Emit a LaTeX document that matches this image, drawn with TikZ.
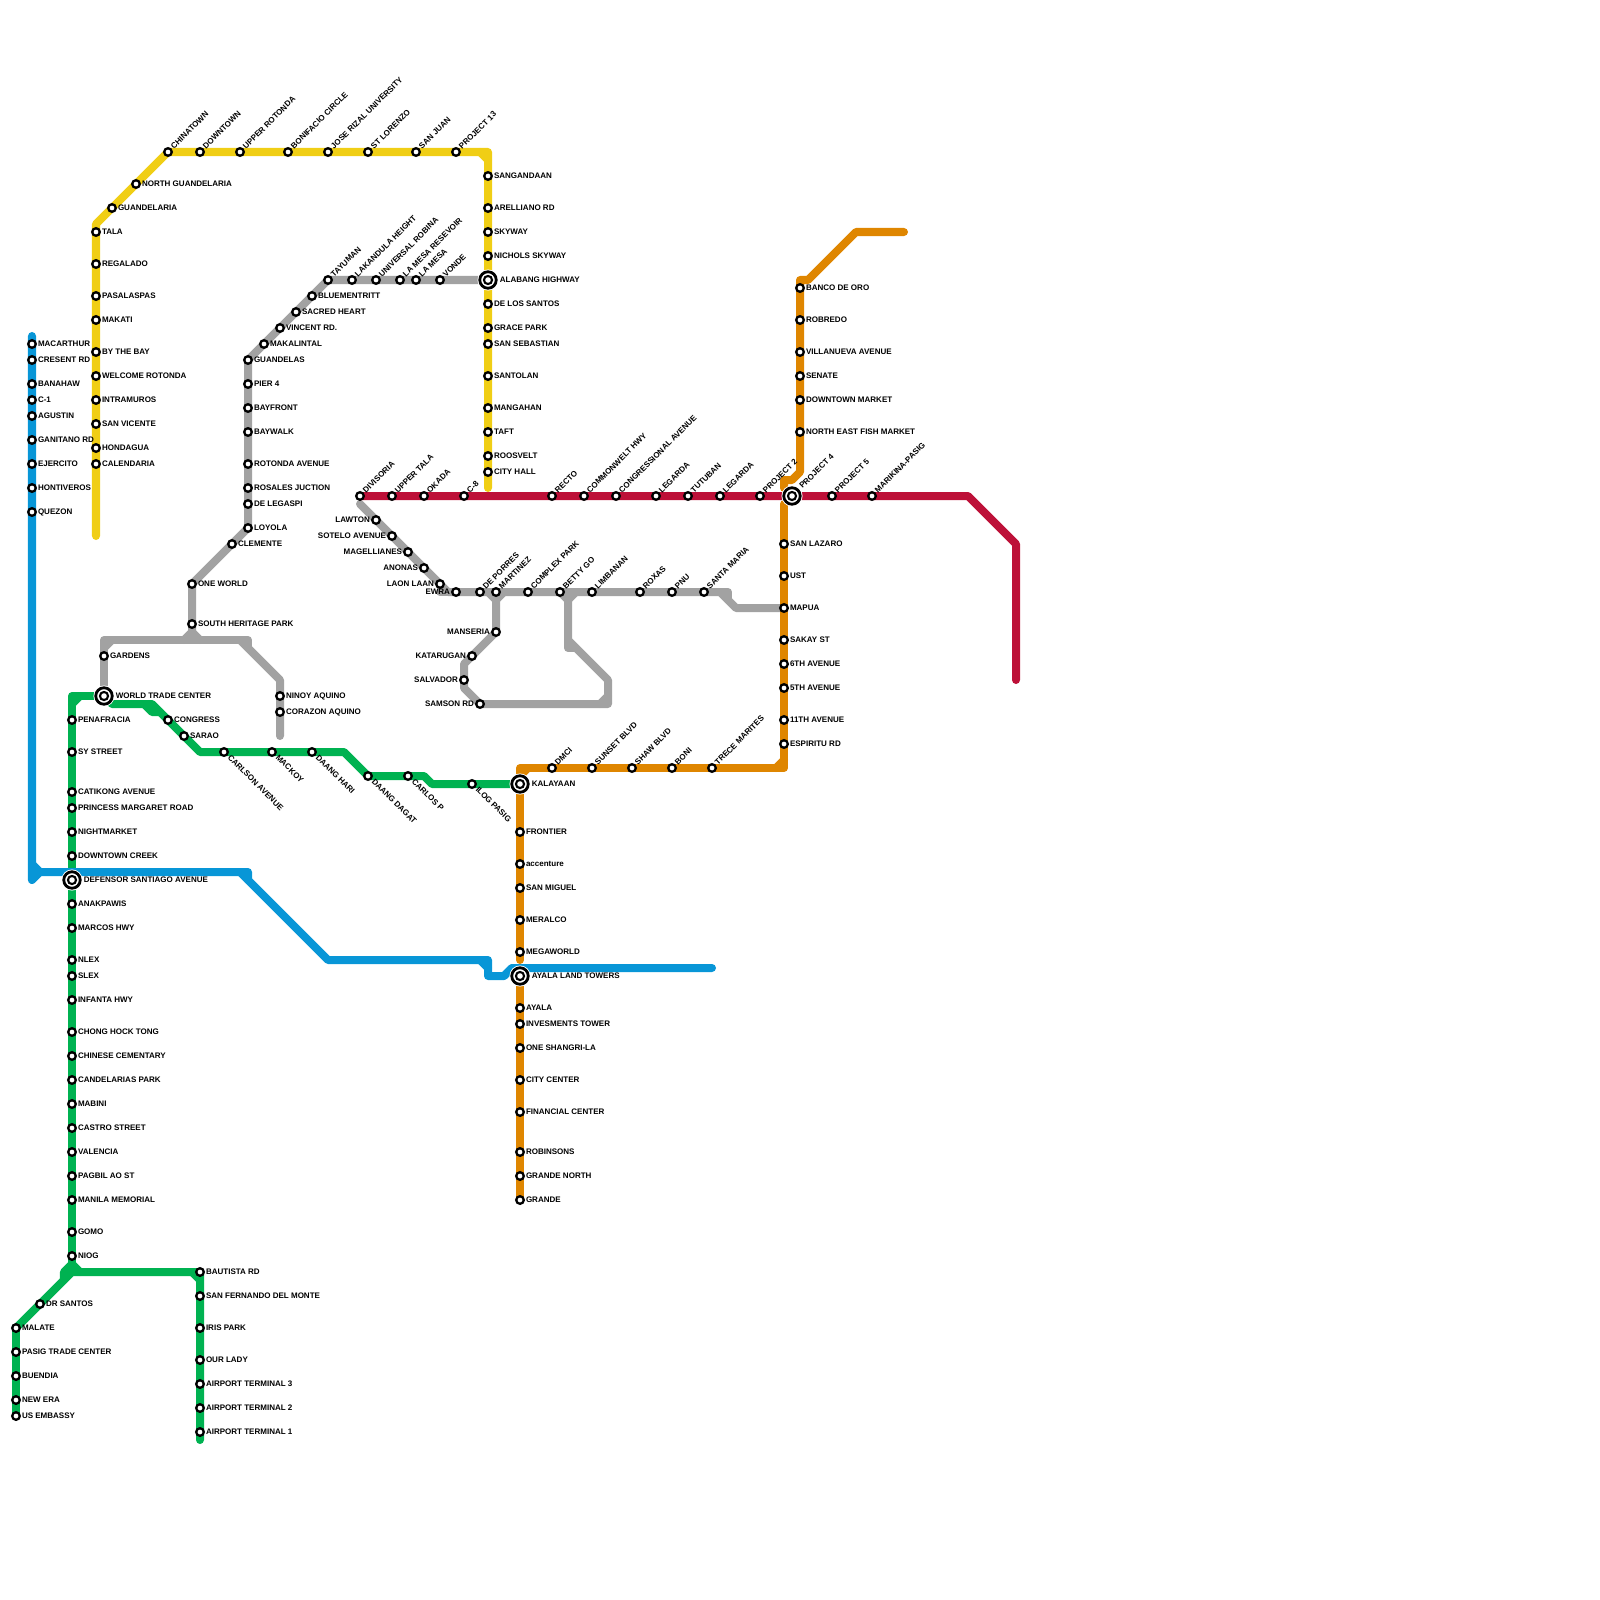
\documentclass[tikz,border=0pt]{standalone}
\usepackage{fontspec}
\setmainfont{Liberation Sans}
\pgfdeclarelayer{lines}
\pgfsetlayers{lines,main}
\definecolor{cyellow}{HTML}{F0CE15}
\definecolor{cblue}{HTML}{0896D7}
\definecolor{cgreen}{HTML}{00B251}
\definecolor{cgray}{HTML}{A2A2A2}
\definecolor{corange}{HTML}{DF8600}
\definecolor{cred}{HTML}{BD1038}
\tikzset{
 stn/.style={circle,draw=black,fill=white,line width=0.023cm,minimum size=0.076cm,inner sep=0pt,outer sep=0pt},
 hub/.style={circle,draw=black,fill=white,line width=0.028cm,minimum size=0.165cm,inner sep=0pt,outer sep=0pt,
   path picture={\fill[black] (path picture bounding box.center) circle (0.052cm); \fill[white] (path picture bounding box.center) circle (0.028cm);},
   preaction={draw=white,line width=0.045cm}},
 lbl/.style={inner sep=0pt,outer sep=0pt,text=black,font=\fontsize{2.28}{3}\selectfont\bfseries},
 lblr/.style={lbl,anchor=base west,xshift=0.06cm,yshift=-0.02cm},
 lbll/.style={lbl,anchor=base east,xshift=-0.06cm,yshift=-0.02cm},
 lbli/.style={lbl,anchor=base west,xshift=0.118cm,yshift=-0.02cm},
 lblu/.style={lbl,anchor=base west,rotate=45,xshift=0.062cm,yshift=-0.026cm},
 lblh/.style={lbl,anchor=base west,rotate=45,xshift=0.125cm,yshift=-0.026cm},
 lbld/.style={lbl,anchor=base west,rotate=-45,xshift=0.066cm,yshift=-0.02cm},
 route/.style={line width=0.08cm,line cap=round,line join=round},
 ylw/.style={route,cyellow},
 blu/.style={route,cblue},
 grn/.style={route,cgreen},
 gry/.style={route,cgray},
 org/.style={route,corange},
 rdd/.style={route,cred}
}
\newcommand{\st}[5]{\node[stn] (#1) at (#2,#3) {}; \node[lbl#4] (#1-t) at (#1.center) {#5};}
\newcommand{\hb}[5]{\node[hub] (#1) at (#2,#3) {}; \node[lbl#4] (#1-t) at (#1.center) {#5};}
\begin{document}
\begin{tikzpicture}[x=0.01cm,y=-0.01cm]
\useasboundingbox (0,0) rectangle (1600,1600);
% yellow
\st{chinatown}{168}{152}{u}{CHINATOWN}
\st{downtown}{200}{152}{u}{DOWNTOWN}
\st{upperrot}{240}{152}{u}{UPPER ROTONDA}
\st{bonifacio}{288}{152}{u}{BONIFACIO CIRCLE}
\st{joserizal}{328}{152}{u}{JOSE RIZAL UNIVERSITY}
\st{stlorenzo}{368}{152}{u}{ST LORENZO}
\st{sanjuan}{416}{152}{u}{SAN JUAN}
\st{project13}{456}{152}{u}{PROJECT 13}
\st{northguan}{136}{184}{r}{NORTH GUANDELARIA}
\st{guan}{112}{208}{r}{GUANDELARIA}
\st{tala}{96}{232}{r}{TALA}
\st{regalado}{96}{264}{r}{REGALADO}
\st{pasalaspas}{96}{296}{r}{PASALASPAS}
\st{makati}{96}{320}{r}{MAKATI}
\st{bythebay}{96}{352}{r}{BY THE BAY}
\st{welcome}{96}{376}{r}{WELCOME ROTONDA}
\st{intramuros}{96}{400}{r}{INTRAMUROS}
\st{sanvicente}{96}{424}{r}{SAN VICENTE}
\st{hondagua}{96}{448}{r}{HONDAGUA}
\st{calendaria}{96}{464}{r}{CALENDARIA}
\st{sangandaan}{488}{176}{r}{SANGANDAAN}
\st{arelliano}{488}{208}{r}{ARELLIANO RD}
\st{skyway}{488}{232}{r}{SKYWAY}
\st{nichols}{488}{256}{r}{NICHOLS SKYWAY}
\hb{alabang}{488}{280}{i}{ALABANG HIGHWAY}
\st{delossantos}{488}{304}{r}{DE LOS SANTOS}
\st{gracepark}{488}{328}{r}{GRACE PARK}
\st{sansebastian}{488}{344}{r}{SAN SEBASTIAN}
\st{santolan}{488}{376}{r}{SANTOLAN}
\st{mangahan}{488}{408}{r}{MANGAHAN}
\st{taft}{488}{432}{r}{TAFT}
\st{roosvelt}{488}{456}{r}{ROOSVELT}
\st{cityhall}{488}{472}{r}{CITY HALL}
% blue
\st{macarthur}{32}{344}{r}{MACARTHUR}
\st{cresent}{32}{360}{r}{CRESENT RD}
\st{banahaw}{32}{384}{r}{BANAHAW}
\st{cone}{32}{400}{r}{C-1}
\st{agustin}{32}{416}{r}{AGUSTIN}
\st{ganitano}{32}{440}{r}{GANITANO RD}
\st{ejercito}{32}{464}{r}{EJERCITO}
\st{hontiveros}{32}{488}{r}{HONTIVEROS}
\st{quezon}{32}{512}{r}{QUEZON}
% gray north
\st{tayuman}{328}{280}{u}{TAYUMAN}
\st{lakandula}{352}{280}{u}{LAKANDULA HEIGHT}
\st{universal}{376}{280}{u}{UNIVERSAL ROBINA}
\st{lamesares}{400}{280}{u}{LA MESA RESEVOIR}
\st{lamesa}{416}{280}{u}{LA MESA}
\st{vonde}{440}{280}{u}{VONDE}
\st{bluementritt}{312}{296}{r}{BLUEMENTRITT}
\st{sacredheart}{296}{312}{r}{SACRED HEART}
\st{vincent}{280}{328}{r}{VINCENT RD.}
\st{makalintal}{264}{344}{r}{MAKALINTAL}
\st{guandelas}{248}{360}{r}{GUANDELAS}
\st{pierfour}{248}{384}{r}{PIER 4}
\st{bayfront}{248}{408}{r}{BAYFRONT}
\st{baywalk}{248}{432}{r}{BAYWALK}
\st{rotondaave}{248}{464}{r}{ROTONDA AVENUE}
\st{rosales}{248}{488}{r}{ROSALES JUCTION}
\st{delegaspi}{248}{504}{r}{DE LEGASPI}
\st{loyola}{248}{528}{r}{LOYOLA}
\st{clemente}{232}{544}{r}{CLEMENTE}
\st{oneworld}{192}{584}{r}{ONE WORLD}
\st{southher}{192}{624}{r}{SOUTH HERITAGE PARK}
\st{gardens}{104}{656}{r}{GARDENS}
\hb{wtc}{104}{696}{i}{WORLD TRADE CENTER}
\st{ninoy}{280}{696}{r}{NINOY AQUINO}
\st{corazon}{280}{712}{r}{CORAZON AQUINO}
% green
\st{congress}{168}{720}{r}{CONGRESS}
\st{sarao}{184}{736}{r}{SARAO}
\st{carlson}{224}{752}{d}{CARLSON AVENUE}
\st{mackoy}{272}{752}{d}{MACKOY}
\st{daanghari}{312}{752}{d}{DAANG HARI}
\st{daangdagat}{368}{776}{d}{DAANG DAGAT}
\st{carlosp}{408}{776}{d}{CARLOS P}
\st{ilogpasig}{472}{784}{d}{ILOG PASIG}
\st{penafracia}{72}{720}{r}{PENAFRACIA}
\st{systreet}{72}{752}{r}{SY STREET}
\st{catikong}{72}{792}{r}{CATIKONG AVENUE}
\st{princess}{72}{808}{r}{PRINCESS MARGARET ROAD}
\st{nightmarket}{72}{832}{r}{NIGHTMARKET}
\st{downtowncreek}{72}{856}{r}{DOWNTOWN CREEK}
\hb{defensor}{72}{880}{i}{DEFENSOR SANTIAGO AVENUE}
\st{anakpawis}{72}{904}{r}{ANAKPAWIS}
\st{marcos}{72}{928}{r}{MARCOS HWY}
\st{nlex}{72}{960}{r}{NLEX}
\st{slex}{72}{976}{r}{SLEX}
\st{infanta}{72}{1000}{r}{INFANTA HWY}
\st{chong}{72}{1032}{r}{CHONG HOCK TONG}
\st{chinese}{72}{1056}{r}{CHINESE CEMENTARY}
\st{candelarias}{72}{1080}{r}{CANDELARIAS PARK}
\st{mabini}{72}{1104}{r}{MABINI}
\st{castro}{72}{1128}{r}{CASTRO STREET}
\st{valencia}{72}{1152}{r}{VALENCIA}
\st{pagbil}{72}{1176}{r}{PAGBIL AO ST}
\st{manilamem}{72}{1200}{r}{MANILA MEMORIAL}
\st{gomo}{72}{1232}{r}{GOMO}
\st{niog}{72}{1256}{r}{NIOG}
\st{drsantos}{40}{1304}{r}{DR SANTOS}
\st{malate}{16}{1328}{r}{MALATE}
\st{pasigtrade}{16}{1352}{r}{PASIG TRADE CENTER}
\st{buendia}{16}{1376}{r}{BUENDIA}
\st{newera}{16}{1400}{r}{NEW ERA}
\st{usembassy}{16}{1416}{r}{US EMBASSY}
\st{bautista}{200}{1272}{r}{BAUTISTA RD}
\st{sanfernando}{200}{1296}{r}{SAN FERNANDO DEL MONTE}
\st{irispark}{200}{1328}{r}{IRIS PARK}
\st{ourlady}{200}{1360}{r}{OUR LADY}
\st{atthree}{200}{1384}{r}{AIRPORT TERMINAL 3}
\st{attwo}{200}{1408}{r}{AIRPORT TERMINAL 2}
\st{atone}{200}{1432}{r}{AIRPORT TERMINAL 1}
% red
\st{divisoria}{360}{496}{u}{DIVISORIA}
\st{uppertala}{392}{496}{u}{UPPER TALA}
\st{okada}{424}{496}{u}{OKADA}
\st{ceight}{464}{496}{u}{C-8}
\st{recto}{552}{496}{u}{RECTO}
\st{commonwelt}{584}{496}{u}{COMMONWELT HWY}
\st{congressional}{616}{496}{u}{CONGRESSIONAL AVENUE}
\st{legardaone}{656}{496}{u}{LEGARDA}
\st{tutuban}{688}{496}{u}{TUTUBAN}
\st{legardatwo}{720}{496}{u}{LEGARDA}
\st{projecttwo}{760}{496}{u}{PROJECT 2}
\hb{projectfour}{792}{496}{h}{PROJECT 4}
\st{projectfive}{832}{496}{u}{PROJECT 5}
\st{marikina}{872}{496}{u}{MARIKINA-PASIG}
% gray south
\st{lawton}{376}{520}{l}{LAWTON}
\st{sotelo}{392}{536}{l}{SOTELO AVENUE}
\st{magellianes}{408}{552}{l}{MAGELLIANES}
\st{anonas}{424}{568}{l}{ANONAS}
\st{laonlaan}{440}{584}{l}{LAON LAAN}
\st{ewra}{456}{592}{l}{EWRA}
\st{deporres}{480}{592}{u}{DE PORRES}
\st{martinez}{496}{592}{u}{MARTINEZ}
\st{complexpark}{528}{592}{u}{COMPLEX PARK}
\st{bettygo}{560}{592}{u}{BETTY GO}
\st{limbanan}{592}{592}{u}{LIMBANAN}
\st{roxas}{640}{592}{u}{ROXAS}
\st{pnu}{672}{592}{u}{PNU}
\st{santamaria}{704}{592}{u}{SANTA MARIA}
\st{manseria}{496}{632}{l}{MANSERIA}
\st{katarugan}{472}{656}{l}{KATARUGAN}
\st{salvador}{464}{680}{l}{SALVADOR}
\st{samson}{480}{704}{l}{SAMSON RD}
% orange
\hb{kalayaan}{520}{784}{i}{KALAYAAN}
\st{dmci}{552}{768}{u}{DMCI}
\st{sunset}{592}{768}{u}{SUNSET BLVD}
\st{shaw}{632}{768}{u}{SHAW BLVD}
\st{boni}{672}{768}{u}{BONI}
\st{trece}{712}{768}{u}{TRECE MARITES}
\st{sanlazaro}{784}{544}{r}{SAN LAZARO}
\st{ust}{784}{576}{r}{UST}
\st{mapua}{784}{608}{r}{MAPUA}
\st{sakay}{784}{640}{r}{SAKAY ST}
\st{sixth}{784}{664}{r}{6TH AVENUE}
\st{fifth}{784}{688}{r}{5TH AVENUE}
\st{eleventh}{784}{720}{r}{11TH AVENUE}
\st{espiritu}{784}{744}{r}{ESPIRITU RD}
\st{banco}{800}{288}{r}{BANCO DE ORO}
\st{robredo}{800}{320}{r}{ROBREDO}
\st{villanueva}{800}{352}{r}{VILLANUEVA AVENUE}
\st{senate}{800}{376}{r}{SENATE}
\st{dtmarket}{800}{400}{r}{DOWNTOWN MARKET}
\st{nefish}{800}{432}{r}{NORTH EAST FISH MARKET}
\st{frontier}{520}{832}{r}{FRONTIER}
\st{accenture}{520}{864}{r}{accenture}
\st{sanmiguel}{520}{888}{r}{SAN MIGUEL}
\st{meralco}{520}{920}{r}{MERALCO}
\st{megaworld}{520}{952}{r}{MEGAWORLD}
\hb{ayalaland}{520}{976}{i}{AYALA LAND TOWERS}
\st{ayala}{520}{1008}{r}{AYALA}
\st{invesments}{520}{1024}{r}{INVESMENTS TOWER}
\st{shangrila}{520}{1048}{r}{ONE SHANGRI-LA}
\st{citycenter}{520}{1080}{r}{CITY CENTER}
\st{financial}{520}{1112}{r}{FINANCIAL CENTER}
\st{robinsons}{520}{1152}{r}{ROBINSONS}
\st{grandenorth}{520}{1176}{r}{GRANDE NORTH}
\st{grande}{520}{1200}{r}{GRANDE}
% free ends and bends
\coordinate (yA) at (96,536); \coordinate (yB) at (96,224); \coordinate (yC) at (480,152); \coordinate (yD) at (488,152); \coordinate (yE) at (488,160); \coordinate (yF) at (488,488);
\coordinate (bA) at (32,336); \coordinate (bB) at (32,880); \coordinate (bC) at (32,864); \coordinate (bD) at (40,872); \coordinate (bE) at (248,872); \coordinate (bF) at (240,872); \coordinate (bG) at (248,880); \coordinate (bH) at (328,960); \coordinate (bI) at (488,960); \coordinate (bJ) at (480,960); \coordinate (bK) at (488,968); \coordinate (bL) at (488,976); \coordinate (bM) at (504,976); \coordinate (bN) at (512,968); \coordinate (bO) at (712,968);
\begin{pgfonlayer}{lines}
% yellow
\draw[ylw] (yA) -- (yB) -- (chinatown.center) -- (yD) -- (yF);
\draw[ylw] (yC) -- (yE);
% green (under blue)
\draw[grn] (wtc.center) -- (72,696) -- (niog.center) -- (72,1264);
\draw[grn] (72,704) -- (80,696);
\draw[grn] (wtc.center) -- (112,704) -- (152,704) -- (200,752) -- (344,752) -- (368,776) -- (424,776) -- (432,784) -- (kalayaan.center);
\draw[grn] (144,704) -- (152,712) -- (160,712);
\draw[grn] (72,1264) -- (64,1272) -- (64,1280);
\draw[grn] (72,1264) -- (80,1272);
\draw[grn] (malate.center) -- (72,1272) -- (bautista.center) -- (atone.center) -- (200,1440);
\draw[grn] (192,1272) -- (200,1280);
\draw[grn] (malate.center) -- (usembassy.center);
% blue
\draw[blu] (bA) -- (bB) -- (bD) -- (bE) -- (bG) -- (bH) -- (bI) -- (bL) -- (bM) -- (bN);
\draw[blu] (bC) -- (bD);
\draw[blu] (bF) -- (bG);
\draw[blu] (bJ) -- (bK);
% gray north
\draw[gry] (alabang.center) -- (tayuman.center) -- (guandelas.center) -- (loyola.center) -- (oneworld.center) -- (southher.center) -- (192,632);
\draw[gry] (184,640) -- (192,632) -- (200,640);
\draw[gry] (wtc.center) -- (104,640) -- (248,640) -- (248,648);
\draw[gry] (104,648) -- (112,640);
\draw[gry] (240,640) -- (280,680) -- (280,736);
% gray south
\draw[gry] (360,504) -- (laonlaan.center) -- (448,592) -- (720,592) -- (736,608) -- (mapua.center);
\draw[gry] (440,592) -- (448,592);
\draw[gry] (712,592) -- (728,592) -- (728,600);
\draw[gry] (488,592) -- (496,600) -- (504,592);
\draw[gry] (496,600) -- (manseria.center) -- (katarugan.center) -- (464,664) -- (464,688) -- (samson.center) -- (608,704) -- (608,680) -- (568,640) -- (568,600);
\draw[gry] (600,704) -- (608,696);
\draw[gry] (568,640) -- (568,648) -- (576,648);
\draw[gry] (560,592) -- (568,600) -- (576,592);
% orange
\draw[org] (grande.center) -- (ayalaland.center);
\draw[org] (520,960) -- (kalayaan.center);
\draw[org] (kalayaan.center) -- (520,768) -- (784,768) -- (mapua.center) -- (784,504);
\draw[org] (520,776) -- (528,768);
\draw[org] (776,768) -- (784,760);
\draw[org] (784,488) -- (784,480) -- (792,480) -- (800,472) -- (800,280) -- (808,280) -- (856,232) -- (904,232);
% blue over orange
\draw[blu] (bM) -- (bN) -- (bO);
% red
\draw[rdd] (divisoria.center) -- (968,496) -- (1016,544) -- (1016,680);
\end{pgfonlayer}
\end{tikzpicture}
\end{document}
